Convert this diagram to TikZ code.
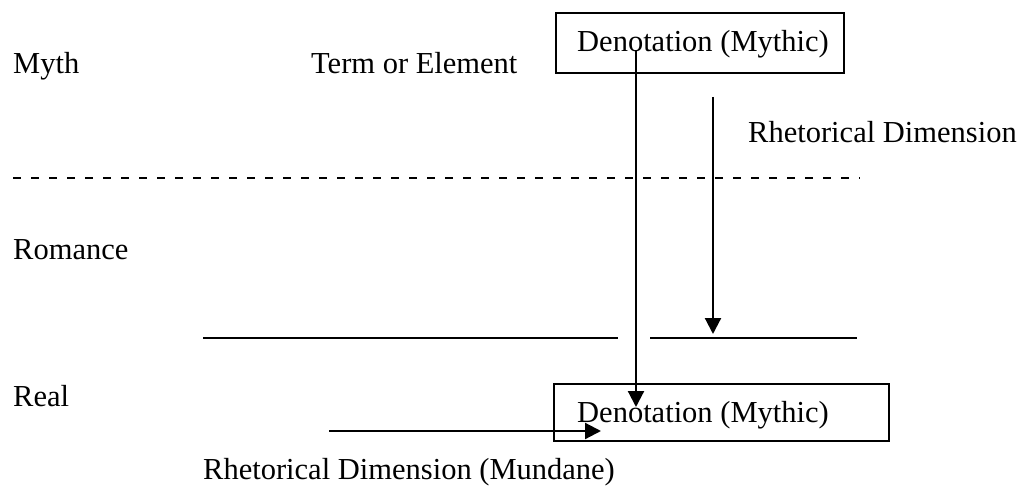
\documentclass[tikz,border=0pt]{standalone}
\usepackage{fontspec}
\setmainfont{Liberation Serif}
\usetikzlibrary{arrows.meta}
\begin{document}
\begin{tikzpicture}[x=1pt,y=-1pt,
  lbl/.style={anchor=base west,inner sep=0pt,font=\fontsize{30.5}{36}\selectfont},
  boxframe/.style={draw,line width=2pt,anchor=north west,inner sep=0pt},
  solidline/.style={line width=2.6pt},
  dashline/.style={line width=2.2pt,dash pattern=on 8pt off 10pt},
  arr/.style={line width=2.2pt,-{Triangle[length=16pt,width=16pt]}}]
\useasboundingbox (0,0) rectangle (1017,486);
% level labels
\node[lbl] (myth) at (13,74) {Myth};
\node[lbl] (term) at (311,74) {Term or Element};
\node[lbl] (romance) at (13,260) {Romance};
\node[lbl] (real) at (13,406) {Real};
\node[lbl] (rdm) at (203,479) {Rhetorical Dimension (Mundane)};
\node[lbl] (rd) at (748,143) {Rhetorical Dimension};
% boxes
\node[boxframe,minimum width=288pt,minimum height=60pt] (topbox) at (555,12) {};
\node[lbl] (toptext) at (577,52) {Denotation (Mythic)};
\node[boxframe,minimum width=335pt,minimum height=57pt] (botbox) at (553,383) {};
\node[lbl] (bottext) at (577,422) {Denotation (Mythic)};
% separator lines
\coordinate (dl) at (13,178);
\coordinate (dr) at (860,178);
\draw[dashline] (dl) -- (dr);
\coordinate (l1a) at (203,338);
\coordinate (l1b) at (618,338);
\coordinate (l2a) at (650,338);
\coordinate (l2b) at (857,338);
\draw[solidline] (l1a) -- (l1b);
\draw[solidline] (l2a) -- (l2b);
% arrows
\coordinate (a1s) at (636,50);
\coordinate (a1e) at (636,407);
\draw[arr] (a1s) -- (a1e);
\coordinate (a2s) at (713,97);
\coordinate (a2e) at (713,334);
\draw[arr] (a2s) -- (a2e);
\coordinate (a3s) at (329,431);
\coordinate (a3e) at (601,431);
\draw[arr] (a3s) -- (a3e);
\end{tikzpicture}
\end{document}
